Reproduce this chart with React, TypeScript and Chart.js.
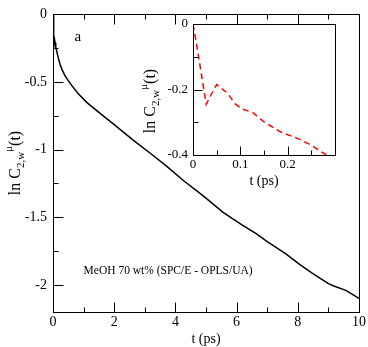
import React, { useEffect, useRef } from 'react';
import { Chart, registerables } from 'chart.js';
Chart.register(...registerables);

// ---- data ----
const mainT = [0, 0.013, 0.023, 0.028, 0.05, 0.072, 0.09, 0.12, 0.16, 0.23, 0.3, 0.39, 0.5, 0.61, 0.82, 1.1, 1.53, 2.0, 2.62, 3.2, 3.7, 4.27, 4.9, 5.57, 6.2, 6.64, 7.0, 7.61, 8.07, 8.48, 9.0, 9.2, 9.57, 10.0];
const mainLnC = [0, -0.11, -0.2, -0.245, -0.185, -0.21, -0.245, -0.27, -0.31, -0.369, -0.41, -0.453, -0.49, -0.525, -0.585, -0.65, -0.73, -0.815, -0.93, -1.03, -1.12, -1.23, -1.34, -1.465, -1.56, -1.62, -1.68, -1.77, -1.85, -1.915, -1.99, -2.01, -2.04, -2.1];

const insetT = [0, 0.005, 0.013, 0.023, 0.028, 0.035, 0.05, 0.072, 0.09, 0.105, 0.126, 0.151, 0.186, 0.222, 0.25, 0.282];
const insetLnC = [0, -0.04, -0.11, -0.2, -0.245, -0.225, -0.185, -0.21, -0.245, -0.26, -0.27, -0.3, -0.33, -0.35, -0.37, -0.4];

const mainXTicks = [0, 2, 4, 6, 8, 10];
const mainXMinor = [1, 3, 5, 7, 9];
const mainYTicks = [0, -0.5, -1, -1.5, -2];
const mainYMinor = [-0.25, -0.75, -1.25, -1.75];
const insetXTicks = [0, 0.1, 0.2];
const insetXMinor = [0.05, 0.15, 0.25];
const insetYTicks = [0, -0.2, -0.4];
const insetYMinor = [-0.1, -0.3];

const annotation = 'MeOH 70 wt% (SPC/E - OPLS/UA)';
const panelLabel = 'a';

const SERIF = '"Liberation Serif", "DejaVu Serif", "Times New Roman", serif';

type Part = { t: string; size: number; dy: number };

function drawRich(ctx: CanvasRenderingContext2D, cx: number, cy: number, rotate: boolean, parts: Part[]) {
  ctx.save();
  ctx.translate(cx, cy);
  if (rotate) ctx.rotate(-Math.PI / 2);
  ctx.fillStyle = '#000';
  ctx.textBaseline = 'alphabetic';
  ctx.textAlign = 'left';
  let total = 0;
  const ws: number[] = [];
  for (const p of parts) {
    ctx.font = `${p.size}px ${SERIF}`;
    const w = ctx.measureText(p.t).width;
    ws.push(w);
    total += w;
  }
  let x = -total / 2;
  parts.forEach((p, i) => {
    ctx.font = `${p.size}px ${SERIF}`;
    ctx.fillText(p.t, x, p.dy);
    x += ws[i];
  });
  ctx.restore();
}

const yLabelParts: Part[] = [
  { t: 'ln C', size: 16, dy: 0 },
  { t: '2,w', size: 11, dy: 4 },
  { t: 'μ', size: 11, dy: -8 },
  { t: '(t)', size: 16, dy: 0 },
];

function framePlugin(cfg: {
  xMajor: number[]; xMinor: number[]; yMajor: number[]; yMinor: number[];
  top: boolean; majorLen: number; minorLen: number;
  draw: (chart: any) => void;
}) {
  return {
    id: 'frameTicks',
    afterDraw(chart: any) {
      const { ctx, chartArea: a, scales } = chart;
      const xs = scales.x, ys = scales.y;
      const L = Math.round(a.left) + 0.5, R = Math.round(a.right) + 0.5;
      const T = Math.round(a.top) + 0.5, B = Math.round(a.bottom) + 0.5;
      ctx.save();
      ctx.strokeStyle = '#000';
      ctx.lineWidth = 1;
      ctx.strokeRect(L, T, R - L, B - T);
      ctx.beginPath();
      const xt = (vals: number[], len: number) => {
        for (const v of vals) {
          const px = Math.round(xs.getPixelForValue(v)) + 0.5;
          ctx.moveTo(px, B); ctx.lineTo(px, B - len);
          if (cfg.top) { ctx.moveTo(px, T); ctx.lineTo(px, T + len); }
        }
      };
      const yt = (vals: number[], len: number) => {
        for (const v of vals) {
          const py = Math.round(ys.getPixelForValue(v)) + 0.5;
          ctx.moveTo(L, py); ctx.lineTo(L + len, py);
        }
      };
      xt(cfg.xMajor, cfg.majorLen);
      xt(cfg.xMinor, cfg.minorLen);
      yt(cfg.yMajor, cfg.majorLen);
      yt(cfg.yMinor, cfg.minorLen);
      ctx.stroke();
      ctx.restore();
      cfg.draw(chart);
    },
  };
}

const fmt = (v: number) => String(Math.round(v * 100) / 100);

export default function App() {
  const mainRef = useRef<HTMLCanvasElement>(null);
  const insetRef = useRef<HTMLCanvasElement>(null);

  useEffect(() => {
    const main = new Chart(mainRef.current!, {
      type: 'line',
      data: {
        datasets: [{
          data: mainT.map((t, i) => ({ x: t, y: mainLnC[i] })),
          borderColor: '#000', borderWidth: 1.5, pointRadius: 0, fill: false, tension: 0,
        }],
      },
      options: {
        animation: false, responsive: false, maintainAspectRatio: false,
        layout: { padding: { left: 0, top: 7, right: 8, bottom: 0 } },
        plugins: { legend: { display: false }, tooltip: { enabled: false } },
        scales: {
          x: {
            type: 'linear', min: 0, max: 10,
            grid: { display: false, drawTicks: false }, border: { display: false },
            ticks: { font: { family: SERIF, size: 14 }, color: '#000', padding: 2, maxRotation: 0, autoSkip: false, callback: (v: any) => fmt(v) },
            afterBuildTicks: (s: any) => { s.ticks = mainXTicks.map((v) => ({ value: v })); },
            afterFit: (s: any) => { s.height = 35; },
          },
          y: {
            type: 'linear', min: -2.2, max: 0,
            grid: { display: false, drawTicks: false }, border: { display: false },
            ticks: { font: { family: SERIF, size: 14 }, color: '#000', padding: 6, autoSkip: false, callback: (v: any) => fmt(v) },
            afterBuildTicks: (s: any) => { s.ticks = mainYTicks.map((v) => ({ value: v })); },
            afterFit: (s: any) => { s.width = 53; },
          },
        },
      },
      plugins: [framePlugin({
        xMajor: mainXTicks, xMinor: mainXMinor, yMajor: mainYTicks, yMinor: mainYMinor,
        top: true, majorLen: 10, minorLen: 5,
        draw: (chart: any) => {
          const { ctx, chartArea: a, scales } = chart;
          drawRich(ctx, (a.left + a.right) / 2, 343, false, [{ t: 't (ps)', size: 14, dy: 0 }]);
          drawRich(ctx, 20, 163, true, yLabelParts);
          ctx.save();
          ctx.fillStyle = '#000';
          ctx.font = `15px ${SERIF}`;
          ctx.textBaseline = 'alphabetic';
          ctx.textAlign = 'left';
          ctx.fillText(panelLabel, scales.x.getPixelForValue(0.7), scales.y.getPixelForValue(-0.2));
          ctx.font = `11.5px ${SERIF}`;
          ctx.fillText(annotation, scales.x.getPixelForValue(1.0), scales.y.getPixelForValue(-1.92));
          ctx.restore();
        },
      })],
    } as any);

    const inset = new Chart(insetRef.current!, {
      type: 'line',
      data: {
        datasets: [{
          data: insetT.map((t, i) => ({ x: t, y: insetLnC[i] })),
          borderColor: '#ff0000', borderWidth: 1.5, borderDash: [6, 4], pointRadius: 0, fill: false, tension: 0,
        }],
      },
      options: {
        animation: false, responsive: false, maintainAspectRatio: false,
        layout: { padding: { left: 153, top: 24, right: 33, bottom: 172 } },
        plugins: { legend: { display: false }, tooltip: { enabled: false } },
        scales: {
          x: {
            type: 'linear', min: 0, max: 0.3,
            grid: { display: false, drawTicks: false }, border: { display: false },
            ticks: { font: { family: SERIF, size: 13 }, color: '#000', padding: 2, maxRotation: 0, autoSkip: false, callback: (v: any) => fmt(v) },
            afterBuildTicks: (s: any) => { s.ticks = insetXTicks.map((v) => ({ value: v })); },
            afterFit: (s: any) => { s.height = 20; },
          },
          y: {
            type: 'linear', min: -0.4, max: 0,
            grid: { display: false, drawTicks: false }, border: { display: false },
            ticks: { font: { family: SERIF, size: 13 }, color: '#000', padding: 5, autoSkip: false, callback: (v: any) => fmt(v) },
            afterBuildTicks: (s: any) => { s.ticks = insetYTicks.map((v) => ({ value: v })); },
            afterFit: (s: any) => { s.width = 40; },
          },
        },
      },
      plugins: [framePlugin({
        xMajor: insetXTicks, xMinor: insetXMinor, yMajor: insetYTicks, yMinor: insetYMinor,
        top: false, majorLen: 9, minorLen: 5,
        draw: (chart: any) => {
          const { ctx, chartArea: a } = chart;
          drawRich(ctx, (a.left + a.right) / 2, 185, false, [{ t: 't (ps)', size: 14, dy: 0 }]);
          drawRich(ctx, 155, 101, true, yLabelParts);
        },
      })],
    } as any);

    return () => { main.destroy(); inset.destroy(); };
  }, []);

  return (
    <div style={{ position: 'fixed', left: 0, top: 0, width: 368, height: 347, background: '#fff' }}>
      <canvas ref={mainRef} width={368} height={347} style={{ position: 'absolute', left: 0, top: 0 }} />
      <canvas ref={insetRef} width={368} height={347} style={{ position: 'absolute', left: 0, top: 0 }} />
    </div>
  );
}
